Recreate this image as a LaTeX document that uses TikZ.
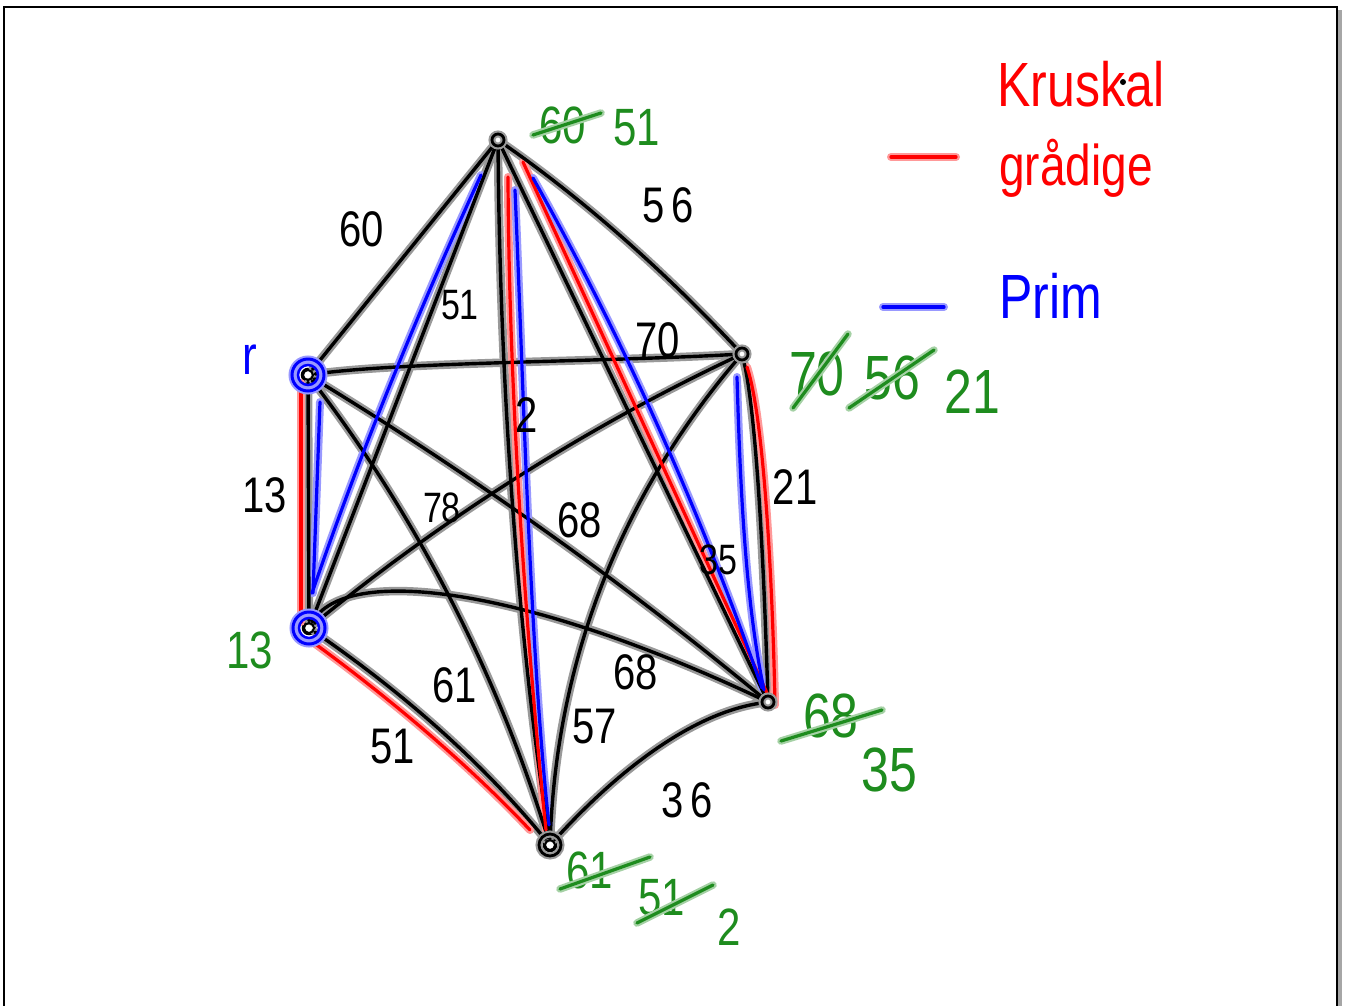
\documentclass[tikz,border=0pt]{standalone}
\usepackage{fontspec}
\usepackage{graphicx}
\setmainfont{Liberation Sans}
\definecolor{gcol}{RGB}{30,140,30}
\newcommand\hw[1]{\scalebox{1}[1.25]{#1}}
\newcommand\blackgraph[1]{%
 \path[#1] (T) -- (L);
 \path[#1] (T) .. controls (587,202) and (667,274) .. (R);
 \path[#1] (T) -- (LL);
 \path[#1] (T) .. controls (500,400) and (520,650) .. (B);
 \path[#1] (T) -- (RL);
 \path[#1] (L) .. controls (400,362) and (600,362) .. (R);
 \path[#1] (L) -- (LL);
 \path[#1] (L) .. controls (417,517) and (497,673) .. (B);
 \path[#1] (L) .. controls (469,473) and (623,582) .. (RL);
 \path[#1] (R) .. controls (585,428) and (441,520) .. (LL);
 \path[#1] (R) .. controls (621,496) and (557,659) .. (B);
 \path[#1] (R) .. controls (758,420) and (765,600) .. (RL);
 \path[#1] (LL) .. controls (345,565) and (520,585) .. (RL);
 \path[#1] (LL) .. controls (396,688) and (476,755) .. (B);
 \path[#1] (B) .. controls (600,790) and (680,715) .. (RL);
}
\newcommand\redgraph[1]{%
 \path[#1] ([shift={(-7,8)}]L.center) -- ([shift={(-8,-6)}]LL.center);
 \path[#1] ([shift={(10,37)}]T.center) .. controls (509,400) and (527,645) .. ([shift={(-4,-15)}]B.center);
 \path[#1] ([shift={(25,22)}]T.center) -- ([shift={(-1,-9)}]RL.center);
 \path[#1] ([shift={(5,13)}]R.center) .. controls (765,420) and (773,600) .. ([shift={(7,3)}]RL.center);
 \path[#1] ([shift={(5,15)}]LL.center) .. controls (388,697) and (468,764) .. ([shift={(-20,-15)}]B.center);
}
\newcommand\bluegraph[1]{%
 \path[#1] ([shift={(12,27)}]L.center) -- ([shift={(4,-35)}]LL.center);
 \path[#1] ([shift={(-17,35)}]T.center) .. controls (421,305) and (361,450) .. ([shift={(3,-35)}]LL.center);
 \path[#1] ([shift={(17,50)}]T.center) .. controls (524,400) and (530,650) .. ([shift={(-1,-20)}]B.center);
 \path[#1] ([shift={(35,38)}]T.center) .. controls (624,340) and (702,515) .. ([shift={(-6,-14)}]RL.center);
 \path[#1] ([shift={(-5,23)}]R.center) .. controls (740,480) and (745,600) .. ([shift={(-4,-12)}]RL.center);
}
\begin{document}
\begin{tikzpicture}[x=1pt,y=-1pt,
  glowk/.style={draw=black!40, line width=8.5pt, line cap=round},
  corek/.style={draw=black, line width=3.4pt, line cap=round},
  glowr/.style={draw=red!40, line width=8pt, line cap=round},
  corer/.style={draw=red, line width=3.2pt, line cap=round},
  glowb/.style={draw=blue!40, line width=8pt, line cap=round},
  coreb/.style={draw=blue, line width=3.2pt, line cap=round},
  glowg/.style={draw=gcol!40, line width=7.5pt, line cap=round},
  coreg/.style={draw=gcol, line width=3.2pt, line cap=round},
  vtx/.style={circle, draw=black, line width=2.5pt, minimum size=12pt, inner sep=0pt},
  lab/.style={text=black, font=\fontsize{40}{44}\selectfont, inner sep=0pt},
  slab/.style={text=black, font=\fontsize{34}{38}\selectfont, inner sep=0pt},
  glab/.style={text=gcol, font=\fontsize{42}{46}\selectfont, inner sep=0pt},
  blab/.style={text=gcol, font=\fontsize{50}{54}\selectfont, inner sep=0pt},
  leg/.style={font=\fontsize{50}{56}\selectfont, inner sep=0pt},
]
\useasboundingbox (0,0) rectangle (1345,1005);
\fill[white] (0,0) rectangle (1345,1005);
% frame
\draw[gray!70, line width=4pt] (1340,10) -- (1340,1010);
\draw[black, line width=2.5pt] (4,1010) -- (4,7) -- (1337,7) -- (1337,1010);

% vertices
\node[vtx] (T) at (498,140) {};
\node[vtx] (L) at (308,375) {};
\node[vtx] (R) at (742,354) {};
\node[vtx] (LL) at (309,628) {};
\node[vtx] (RL) at (768,702) {};
\node[vtx] (B) at (550,845) {};

% edges
\blackgraph{glowk}
\redgraph{glowr}
\bluegraph{glowb}
\blackgraph{corek}
\redgraph{corer}
\bluegraph{coreb}

% vertex marks
\foreach \v in {T,R,RL} {\draw[black!40, line width=7pt] (\v) circle[radius=6]; \draw[black, line width=2.8pt] (\v) circle[radius=6];}
\draw[black!40, line width=7pt] (B) circle[radius=11];
\draw[black, line width=2.8pt] (B) circle[radius=11];
\draw[black, line width=2pt] (B) circle[radius=5];
\foreach \v in {L,LL} {
  \draw[blue!40, line width=9pt] (\v) circle[radius=15];
  \draw[blue, line width=3pt] (\v) circle[radius=16];
  \draw[blue, line width=2.5pt] (\v) circle[radius=10];
  \draw[black, line width=2pt] (\v) circle[radius=5];
}

% edge weights
\node[lab] (w60) at (362,229) {\hw{60}};
\node[lab] (w56) at (668,205) {\hw{5\,6}};
\node[slab] (w51a) at (460,305) {\hw{51}};
\node[lab] (w70) at (658,340) {\hw{70}};
\node[lab] (w2) at (527,415) {\hw{2}};
\node[lab] (w13) at (265,495) {\hw{13}};
\node[slab] (w78) at (442,508) {\hw{78}};
\node[lab] (w68a) at (580,520) {\hw{68}};
\node[slab] (w35) at (718,560) {\hw{35}};
\node[lab] (w21) at (795,487) {\hw{21}};
\node[lab] (w68b) at (636,672) {\hw{68}};
\node[lab] (w61) at (455,685) {\hw{61}};
\node[lab] (w57) at (595,727) {\hw{57}};
\node[lab] (w51b) at (393,747) {\hw{51}};
\node[lab] (w36) at (687,800) {\hw{3\,6}};

% green annotations
\node[glab] (g60) at (563,125) {\hw{60}};
\draw[glowg] ([shift={(-30,10)}]g60.center) -- ([shift={(38,-12)}]g60.center);
\draw[coreg] ([shift={(-30,10)}]g60.center) -- ([shift={(38,-12)}]g60.center);
\node[glab] (g51) at (637,128) {\hw{51}};
\node[blab] (g70) at (817,374) {\hw{70}};
\draw[glowg] ([shift={(-24,34)}]g70.center) -- ([shift={(31,-40)}]g70.center);
\draw[coreg] ([shift={(-24,34)}]g70.center) -- ([shift={(31,-40)}]g70.center);
\node[blab] (g56) at (892,378) {\hw{56}};
\draw[glowg] ([shift={(-43,30)}]g56.center) -- ([shift={(42,-28)}]g56.center);
\draw[coreg] ([shift={(-43,30)}]g56.center) -- ([shift={(42,-28)}]g56.center);
\node[blab] (g21) at (972,392) {\hw{21}};
\node[glab] (g13) at (250,650) {\hw{13}};
\node[blab] (g68) at (831,716) {\hw{68}};
\draw[glowg] ([shift={(-50,25)}]g68.center) -- ([shift={(51,-6)}]g68.center);
\draw[coreg] ([shift={(-50,25)}]g68.center) -- ([shift={(51,-6)}]g68.center);
\node[blab] (g35) at (889,770) {\hw{35}};
\node[glab] (g61) at (590,870) {\hw{61}};
\draw[glowg] ([shift={(-30,19)}]g61.center) -- ([shift={(60,-13)}]g61.center);
\draw[coreg] ([shift={(-30,19)}]g61.center) -- ([shift={(60,-13)}]g61.center);
\node[glab] (g51c) at (662,898) {\hw{51}};
\draw[glowg] ([shift={(-25,25)}]g51c.center) -- ([shift={(51,-13)}]g51c.center);
\draw[coreg] ([shift={(-25,25)}]g51c.center) -- ([shift={(51,-13)}]g51c.center);
\node[glab] (g2) at (729,927) {\hw{2}};

% root mark
\node[text=blue, font=\fontsize{44}{48}\selectfont, inner sep=0pt] (root) at (250,360) {\hw{r}};

% legend
\node[leg, text=red] (kru) at (1081,84) {\hw{Kruskal}};
\fill[black] (1123,82) circle[radius=3];
\node[leg, text=red, font=\fontsize{46}{50}\selectfont] (gr) at (1076,168) {\hw{grådige}};
\coordinate (rd1) at (891,157);
\coordinate (rd2) at (956,157);
\draw[glowr] (rd1) -- (rd2);
\draw[corer] (rd1) -- (rd2);
\node[leg, text=blue] (prim) at (1051,296) {\hw{Prim}};
\coordinate (bd1) at (883,307);
\coordinate (bd2) at (944,307);
\draw[glowb] (bd1) -- (bd2);
\draw[coreb] (bd1) -- (bd2);
\end{tikzpicture}
\end{document}
